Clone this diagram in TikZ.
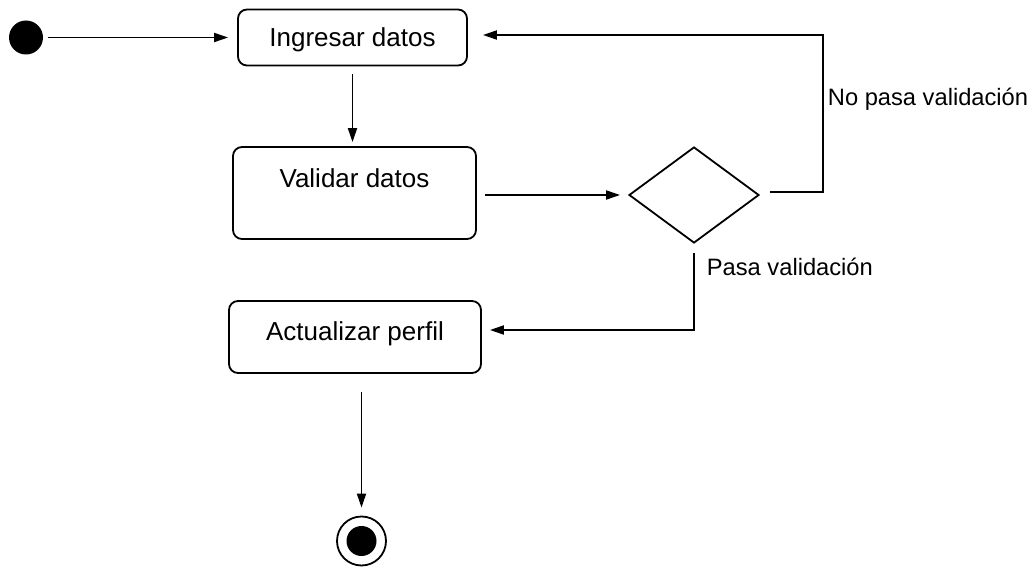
\documentclass[tikz,border=0pt]{standalone}
\usepackage{fontspec}
\setmainfont{Liberation Sans}
\usetikzlibrary{arrows.meta,shapes.geometric,calc}
\begin{document}
\begin{tikzpicture}[x=1pt,y=-1pt,
  line width=1.8pt,
  action/.style={draw,rounded corners=9pt,inner sep=0pt,
    font=\fontsize{26}{30}\selectfont,text height=19pt},
  decision/.style={draw,diamond,inner sep=0pt,minimum width=130pt,minimum height=96pt},
  flow/.style={-{Triangle[length=14pt,width=9pt]}},
  guard/.style={anchor=west,inner sep=0pt,font=\fontsize{23.7}{28}\selectfont},
]
\useasboundingbox (0,0) rectangle (1034,567);

% states
\node[circle,fill,inner sep=0pt,minimum size=34pt] (start) at (26,37.5) {};
\node[action,minimum width=229pt,minimum height=56pt,text depth=0pt] (ingresar) at (352.5,37.5) {Ingresar datos};
\node[action,minimum width=243pt,minimum height=92pt,text depth=30pt] (validar) at (354.5,193) {Validar datos};
\node[decision] (dec) at (694,195) {};
\node[action,minimum width=252pt,minimum height=72pt,text depth=12pt] (act) at (355,337) {Actualizar perfil};
\node[circle,draw,inner sep=0pt,minimum size=49pt] (fin) at (361.5,541) {};
\node[circle,fill,inner sep=0pt,minimum size=30pt] (finin) at (fin.center) {};

% bend points of the decision branches
\coordinate (noturn) at (823,35);
\coordinate (yesturn) at (694,330);

% transitions
\draw[flow,shorten <=4pt,shorten >=9pt] (start.east) -- (ingresar.west |- start.east);
\draw[flow,shorten <=8pt,shorten >=4pt] (ingresar.south) -- (ingresar.south |- validar.north);
\draw[flow,shorten <=8pt,shorten >=8pt] (validar.east |- dec.west) -- (dec.west);
\draw[flow,shorten <=10pt,shorten >=15pt] ([yshift=3pt]dec.east) -| (noturn) -- (ingresar.east |- noturn);
\draw[flow,shorten <=9pt,shorten >=8pt] (dec.south) -- (yesturn) -- (act.east |- yesturn);
\draw[flow,shorten <=18pt,shorten >=8pt] (act.south -| fin.north) -- (fin.north);

% guards
\node[guard] (noguard) at (827,99) {No pasa validación};
\node[guard] (yesguard) at (706,267) {Pasa validación};
\end{tikzpicture}
\end{document}
